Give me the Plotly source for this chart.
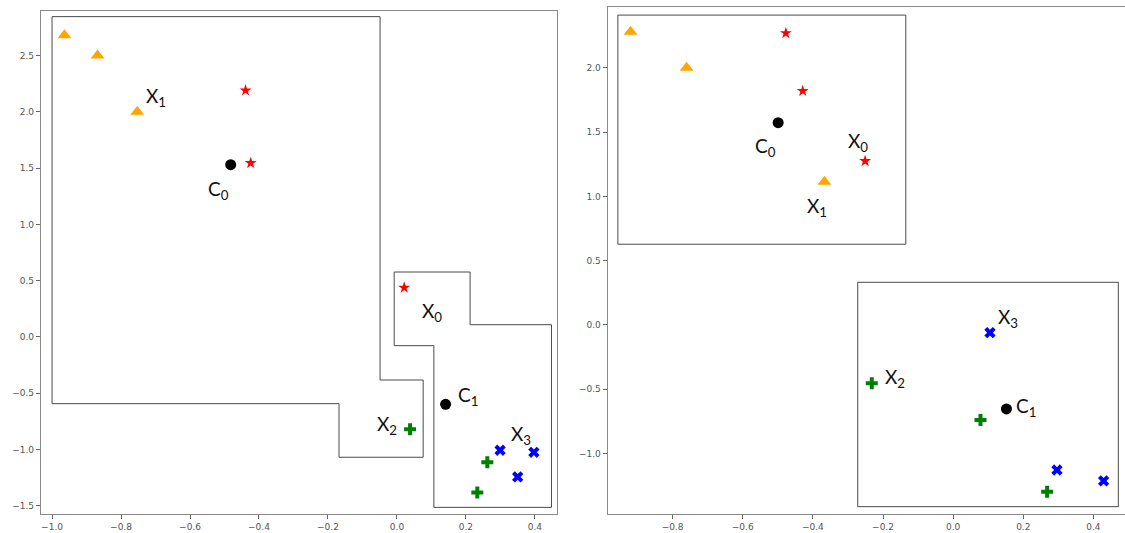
import plotly.graph_objects as go

# ---------------- Left panel data ----------------
L_tri_x = [-0.964, -0.868, -0.753]
L_tri_y = [2.68, 2.50, 2.00]
L_star_x = [-0.439, -0.424, 0.021]
L_star_y = [2.19, 1.545, 0.438]
L_cent_x = [-0.482, 0.141]
L_cent_y = [1.53, -0.598]
L_plus_x = [0.038, 0.262, 0.233]
L_plus_y = [-0.82, -1.113, -1.38]
L_cross_x = [0.299, 0.397, 0.35]
L_cross_y = [-1.006, -1.024, -1.243]
L_lab_text = ["X<sub>1</sub>", "C<sub>0</sub>", "X<sub>0</sub>", "C<sub>1</sub>", "X<sub>2</sub>", "X<sub>3</sub>"]
L_lab_x = [-0.699, -0.518, 0.103, 0.207, -0.03, 0.359]
L_lab_y = [2.134, 1.305, 0.225, -0.521, -0.78, -0.87]
L_poly1_x = [-0.049, -0.049, 0.076, 0.076, -0.168, -0.168, -1.0, -1.0, -0.049]
L_poly1_y = [2.845, -0.382, -0.382, -1.068, -1.068, -0.592, -0.592, 2.845, 2.845]
L_poly2_x = [-0.008, 0.212, 0.212, 0.448, 0.448, 0.107, 0.107, -0.008, -0.008]
L_poly2_y = [0.577, 0.577, 0.109, 0.109, -1.513, -1.513, -0.077, -0.077, 0.577]
L_xticks = [-1.0, -0.8, -0.6, -0.4, -0.2, 0.0, 0.2, 0.4]
L_yticks = [-1.5, -1.0, -0.5, 0.0, 0.5, 1.0, 1.5, 2.0, 2.5]

# ---------------- Right panel data ----------------
R_tri_x = [-0.92, -0.76, -0.367]
R_tri_y = [2.28, 2.0, 1.114]
R_star_x = [-0.477, -0.429, -0.251]
R_star_y = [2.27, 1.82, 1.275]
R_cent_x = [-0.499, 0.152]
R_cent_y = [1.573, -0.653]
R_plus_x = [-0.232, 0.078, 0.268]
R_plus_y = [-0.454, -0.739, -1.296]
R_cross_x = [0.105, 0.296, 0.429]
R_cross_y = [-0.06, -1.128, -1.213]
R_lab_text = ["C<sub>0</sub>", "X<sub>1</sub>", "X<sub>0</sub>", "X<sub>3</sub>", "X<sub>2</sub>", "C<sub>1</sub>"]
R_lab_x = [-0.534, -0.389, -0.271, 0.157, -0.166, 0.209]
R_lab_y = [1.387, 0.92, 1.425, 0.052, -0.415, -0.635]
R_poly1_x = [-0.956, -0.135, -0.135, -0.956, -0.956]
R_poly1_y = [2.41, 2.41, 0.628, 0.628, 2.41]
R_poly2_x = [-0.272, 0.471, 0.471, -0.272, -0.272]
R_poly2_y = [0.332, 0.332, -1.413, -1.413, 0.332]
R_xticks = [-0.8, -0.6, -0.4, -0.2, 0.0, 0.2, 0.4]
R_yticks = [-1.0, -0.5, 0.0, 0.5, 1.0, 1.5, 2.0]

fig = go.Figure()

POLY_COLOR = "#4a4a4a"
LABEL_FONT = dict(family="Lato, Open Sans, sans-serif", size=19, color="#111")


def add_panel(xa, ya, xr, yr, polys, tri, star, cent, plus, cross, labs):
    for px, py in polys:
        fig.add_trace(go.Scatter(x=px, y=py, mode="lines", line=dict(color=POLY_COLOR, width=1),
                                 xaxis=xa, yaxis=ya, hoverinfo="skip"))
    fig.add_trace(go.Scatter(x=tri[0], y=tri[1], mode="markers", xaxis=xa, yaxis=ya,
                             marker=dict(symbol="triangle-up", size=12, color="#FFA500")))
    fig.add_trace(go.Scatter(x=star[0], y=star[1], mode="markers", xaxis=xa, yaxis=ya,
                             marker=dict(symbol="star", size=9, color="#FF0000")))
    fig.add_trace(go.Scatter(x=cent[0], y=cent[1], mode="markers", xaxis=xa, yaxis=ya,
                             marker=dict(symbol="circle", size=11, color="#000000")))
    fig.add_trace(go.Scatter(x=plus[0], y=plus[1], mode="markers", xaxis=xa, yaxis=ya,
                             marker=dict(symbol="cross", size=10, color="#008000")))
    fig.add_trace(go.Scatter(x=cross[0], y=cross[1], mode="markers", xaxis=xa, yaxis=ya,
                             marker=dict(symbol="x", size=10, color="#0000FF")))
    for t, lx, ly in zip(labs[0], labs[1], labs[2]):
        fig.add_annotation(x=lx, y=ly, xref=xr, yref=yr, text=t, showarrow=False,
                           font=LABEL_FONT, xanchor="center", yanchor="middle")


add_panel("x", "y", "x", "y", [(L_poly1_x, L_poly1_y), (L_poly2_x, L_poly2_y)],
          (L_tri_x, L_tri_y), (L_star_x, L_star_y), (L_cent_x, L_cent_y),
          (L_plus_x, L_plus_y), (L_cross_x, L_cross_y), (L_lab_text, L_lab_x, L_lab_y))
add_panel("x2", "y2", "x2", "y2", [(R_poly1_x, R_poly1_y), (R_poly2_x, R_poly2_y)],
          (R_tri_x, R_tri_y), (R_star_x, R_star_y), (R_cent_x, R_cent_y),
          (R_plus_x, R_plus_y), (R_cross_x, R_cross_y), (R_lab_text, R_lab_x, R_lab_y))

axis_style = dict(showgrid=False, zeroline=False, showline=True, linecolor="#8a8a8a", linewidth=1.3,
                  mirror=True, ticks="outside", ticklen=4, tickcolor="#666", tickwidth=1,
                  tickfont=dict(family="DejaVu Sans", size=9, color="#555"), tickformat=".1f")

fig.update_layout(
    width=1125, height=533,
    margin=dict(l=0, r=0, t=0, b=0),
    paper_bgcolor="white", plot_bgcolor="white",
    showlegend=False,
    xaxis=dict(domain=[41 / 1125, 557 / 1125], range=[-1.032, 0.464], tickvals=L_xticks, anchor="y", **axis_style),
    yaxis=dict(domain=[1 - 514 / 533, 1 - 11 / 533], range=[-1.572, 2.895], tickvals=L_yticks, anchor="x", **axis_style),
    xaxis2=dict(domain=[607.7 / 1125, 1.0], range=[-0.985, 0.49], tickvals=R_xticks, anchor="y2", **axis_style),
    yaxis2=dict(domain=[1 - 514 / 533, 1 - 7 / 533], range=[-1.470, 2.473], tickvals=R_yticks, anchor="x2", **axis_style),
)

fig.write_html("out.html")
